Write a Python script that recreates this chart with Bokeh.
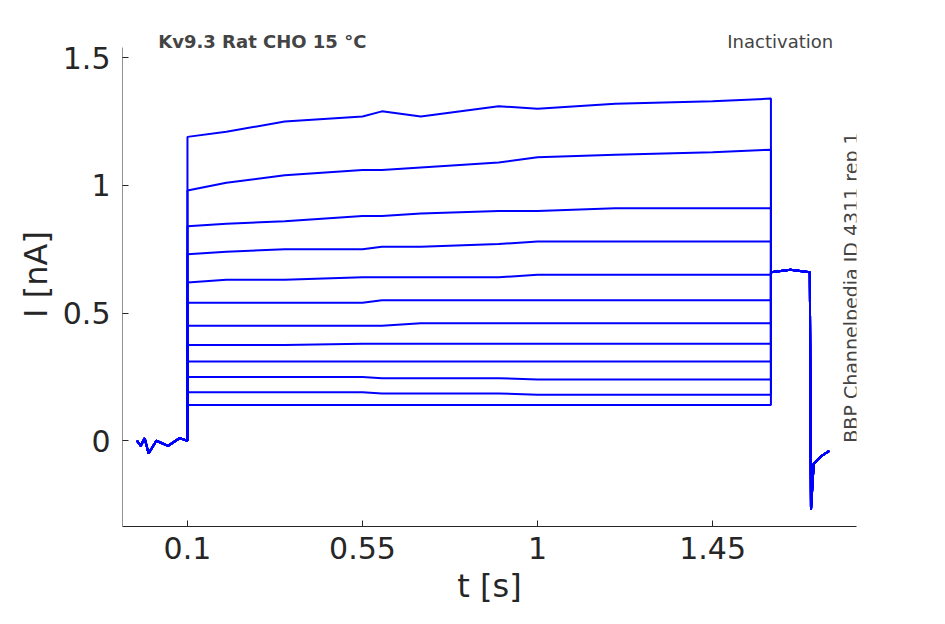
import numpy as np
from bokeh.plotting import figure
from bokeh.models import Label, FixedTicker, Range1d
from bokeh.embed import file_html
from bokeh.resources import INLINE

# read-off waypoints (time in s, current in nA) for the 12 sweeps during the test step
step_t = [0.1, 0.2, 0.35, 0.55, 0.6, 0.7, 0.9, 1.0, 1.2, 1.45, 1.6]
sweeps = [
    [1.19, 1.21, 1.25, 1.27, 1.29, 1.27, 1.31, 1.30, 1.32, 1.33, 1.34],
    [0.98, 1.01, 1.04, 1.06, 1.06, 1.07, 1.09, 1.11, 1.12, 1.13, 1.14],
    [0.84, 0.85, 0.86, 0.88, 0.88, 0.89, 0.90, 0.90, 0.91, 0.91, 0.91],
    [0.73, 0.74, 0.75, 0.75, 0.76, 0.76, 0.77, 0.78, 0.78, 0.78, 0.78],
    [0.62, 0.63, 0.63, 0.64, 0.64, 0.64, 0.64, 0.65, 0.65, 0.65, 0.65],
    [0.54, 0.54, 0.54, 0.54, 0.55, 0.55, 0.55, 0.55, 0.55, 0.55, 0.55],
    [0.45, 0.45, 0.45, 0.45, 0.45, 0.46, 0.46, 0.46, 0.46, 0.46, 0.46],
    [0.375, 0.375, 0.375, 0.38, 0.38, 0.38, 0.38, 0.38, 0.38, 0.38, 0.38],
    [0.31, 0.31, 0.31, 0.31, 0.31, 0.31, 0.31, 0.31, 0.31, 0.31, 0.31],
    [0.25, 0.25, 0.25, 0.25, 0.245, 0.245, 0.245, 0.24, 0.24, 0.24, 0.24],
    [0.19, 0.19, 0.19, 0.19, 0.185, 0.185, 0.185, 0.18, 0.18, 0.18, 0.18],
    [0.14, 0.14, 0.14, 0.14, 0.14, 0.14, 0.14, 0.14, 0.14, 0.14, 0.14],
]
pre_t = [-0.03, -0.02, -0.01, 0.0, 0.02, 0.05, 0.08, 0.1]
pre_i = [0.0, -0.02, 0.01, -0.05, 0.0, -0.02, 0.01, 0.0]
tail_t = [1.6, 1.65, 1.7, 1.703, 1.71, 1.73, 1.75]
tail_i = [0.66, 0.67, 0.66, -0.27, -0.09, -0.06, -0.04]

x_ticks = [0.1, 0.55, 1.0, 1.45]
x_labels = {0.1: "0.1", 0.55: "0.55", 1.0: "1", 1.45: "1.45"}
y_ticks = [0, 0.5, 1, 1.5]
y_labels = {0: "0", 0.5: "0.5", 1: "1", 1.5: "1.5"}

Y_MIN, Y_AX_TOP, Y_TOP = -0.336, 1.54, 1.638
X_MIN, X_MAX = -0.067, 1.82

p = figure(width=937, height=616, output_backend="svg", toolbar_location=None,
           x_range=Range1d(X_MIN, X_MAX), y_range=Range1d(Y_MIN, Y_TOP),
           min_border_left=122, min_border_right=81, min_border_top=22, min_border_bottom=90)
p.outline_line_color = None
p.grid.visible = False
p.background_fill_color = "white"

blue = "#0000ff"
for s in sweeps:
    xs = pre_t + step_t + tail_t
    ys = pre_i + s + tail_i
    p.line(xs, ys, color=blue, line_width=2)

for ax, ticks, labels in ((p.xaxis, x_ticks, x_labels), (p.yaxis, y_ticks, y_labels)):
    ax.ticker = FixedTicker(ticks=ticks)
    ax.major_label_overrides = labels
    ax.minor_tick_line_color = None
    ax.major_tick_in = 6
    ax.major_tick_out = 0
    ax.axis_line_color = "#262626"
    ax.major_tick_line_color = "#262626"
    ax.major_label_text_font = "DejaVu Sans"
    ax.major_label_text_font_size = "30px"
    ax.major_label_text_color = "#262626"
    ax.axis_label_text_font = "DejaVu Sans"
    ax.axis_label_text_font_size = "32px"
    ax.axis_label_text_font_style = "normal"
    ax.axis_label_text_color = "#262626"
p.xaxis.axis_label = "t [s]"
p.yaxis.axis_label = "I [nA]"
p.xaxis.major_label_standoff = 10
p.yaxis.major_label_standoff = 12
# y axis spine only up to the original axes top
p.yaxis.axis_line_color = None
p.segment(x0=[X_MIN], y0=[Y_MIN], x1=[X_MIN], y1=[Y_AX_TOP], line_color="#262626", line_width=1)

p.add_layout(Label(x=0.025, y=Y_AX_TOP, y_offset=-4, text="Kv9.3  Rat  CHO  15 °C",
                   text_font="DejaVu Sans", text_font_style="bold", text_font_size="18px",
                   text_baseline="bottom"))
p.add_layout(Label(x=1.76, y=Y_AX_TOP, y_offset=-4, text="Inactivation",
                   text_font="DejaVu Sans", text_font_size="18px",
                   text_align="right", text_baseline="bottom"))
p.add_layout(Label(x=1.805, y=0.6, text="BBP Channelpedia ID 4311 rep 1", angle=np.pi / 2,
                   text_font="DejaVu Sans", text_font_size="19px",
                   text_align="center", text_baseline="middle"))

open("out.html", "w").write(file_html(p, INLINE))
